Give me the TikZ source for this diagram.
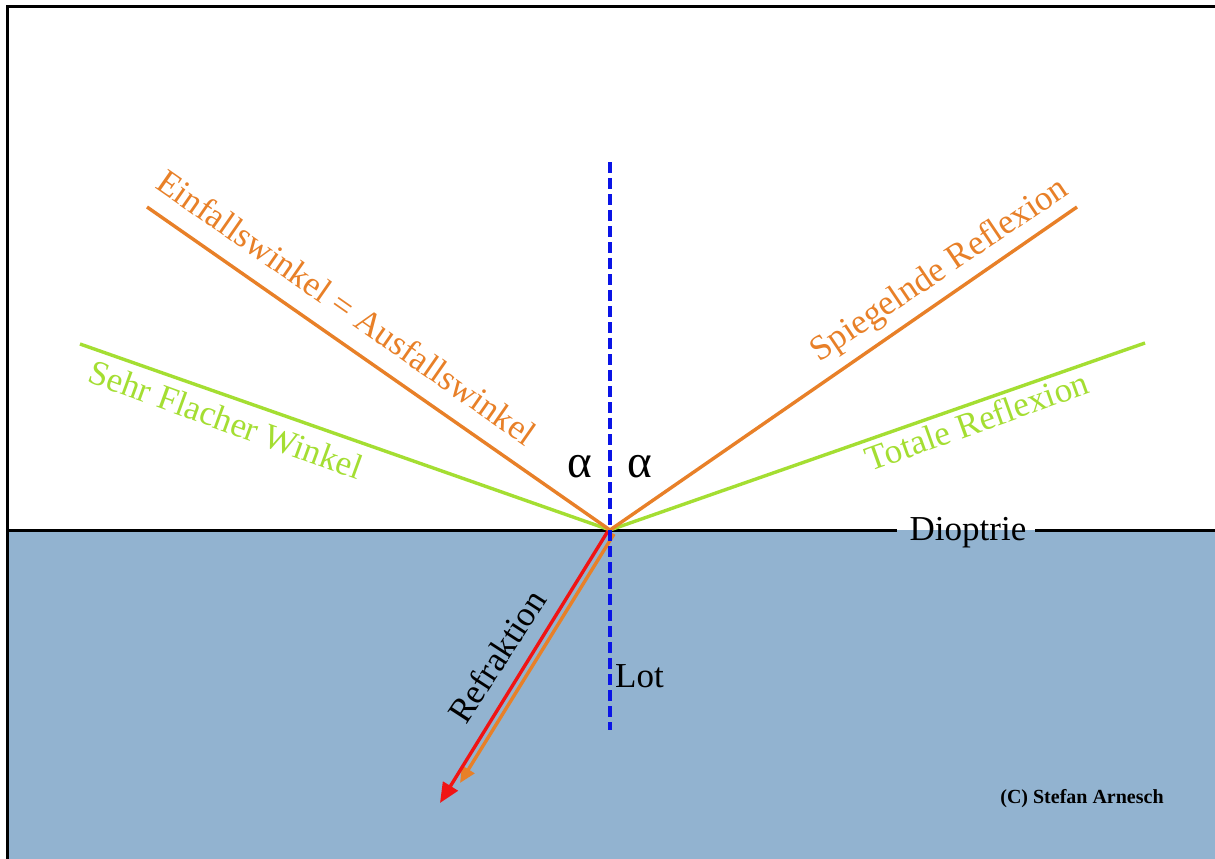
\documentclass[tikz,border=0pt]{standalone}
\usepackage{fontspec}
\setmainfont{Liberation Serif}
\usetikzlibrary{arrows.meta}
\definecolor{water}{RGB}{146,179,208}
\definecolor{orangeL}{RGB}{232,128,40}
\definecolor{greenL}{RGB}{164,222,50}
\definecolor{lotblue}{RGB}{10,20,230}
\definecolor{refred}{RGB}{240,20,20}
\begin{document}
\begin{tikzpicture}[x=1pt,y=-1pt,
  ray/.style={line width=3.4pt},
  lbl/.style={inner sep=0pt, anchor=base, font=\fontsize{35}{40}\selectfont},
]
\useasboundingbox (0,0) rectangle (1215,859);
\fill[white] (0,0) rectangle (1215,859);
% water
\fill[water] (9,530) rectangle (1215,859);
% frame
\draw[line width=3pt] (7.5,859) -- (7.5,7) -- (1215,7);

% coordinates
\coordinate (O) at (610,530);
\coordinate (sL) at (9,530);
\coordinate (sR) at (1215,530);
\coordinate (dL) at (897,530);
\coordinate (dR) at (1035,530);
\coordinate (oL) at (147,207);
\coordinate (oR) at (1077,207);
\coordinate (gL) at (80,344);
\coordinate (gR) at (1145,343);
\coordinate (lotTop) at (610,162);
\coordinate (lotBot) at (610,730);
\coordinate (rS) at (608,531);
\coordinate (rE) at (440,803);
\coordinate (qS) at (614,534);
\coordinate (qE) at (460,783);

% surface (Dioptrie)
\node[lbl] (dio) at (968,540) {Dioptrie};
\draw[line width=3pt] (sL) -- (dL);
\draw[line width=3pt] (dR) -- (sR);

% reflected / incident rays
\draw[ray, greenL] (gL) -- (O) -- (gR);
\draw[ray, orangeL] (oL) -- (O) -- (oR);

% refraction arrows
\draw[ray, orangeL, -{Triangle[length=16pt,width=14pt]}] (qS) -- (qE);
\draw[ray, refred, -{Triangle[length=20pt,width=17pt]}] (rS) -- (rE);

% Lot
\draw[line width=3.4pt, lotblue, dash pattern=on 11pt off 5pt] (lotTop) -- (lotBot);

% labels
\node[lbl, orangeL, rotate=-34.9] (einf) at (340,317) {Einfallswinkel = Ausfallswinkel};
\node[lbl, greenL, rotate=-20] (sehr) at (222,431) {Sehr Flacher Winkel};
\node[lbl, orangeL, rotate=34] (spieg) at (945,278) {Spiegelnde Reflexion};
\node[lbl, greenL, rotate=19.7] (tot) at (981,432) {Totale Reflexion};
\node[lbl, rotate=57] (refr) at (507,663) {Refraktion};
\node[lbl, anchor=base west] (lot) at (615,687) {Lot};
\node[inner sep=0pt, anchor=base, font=\fontsize{47}{50}\selectfont] (a1) at (580,477) {α};
\node[inner sep=0pt, anchor=base, font=\fontsize{47}{50}\selectfont] (a2) at (640,477) {α};
\node[inner sep=0pt, anchor=base, font=\fontsize{20}{24}\selectfont\bfseries] (copy) at (1082,803) {(C) Stefan Arnesch};
\end{tikzpicture}
\end{document}
